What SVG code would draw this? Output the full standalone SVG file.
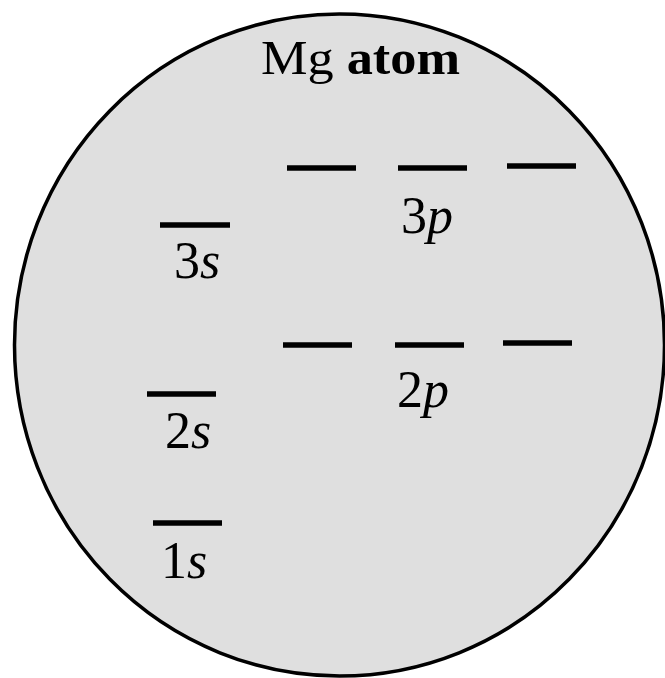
<svg xmlns="http://www.w3.org/2000/svg" width="665" height="678" viewBox="0 0 665 678">
<style>
.atom{fill:#dfdfdf;stroke:#000;stroke-width:3.5}
.lvl{stroke:#000;stroke-width:5.5;stroke-linecap:butt}
.lbl{font-family:"Liberation Serif","Times New Roman",serif;font-size:52px;fill:#000}
.it{font-style:italic}
.title{font-family:"Liberation Serif","Times New Roman",serif;font-size:48px;fill:#000}
</style>
<rect width="665" height="678" fill="#fff"/>
<g id="atom">
<ellipse class="atom" cx="339.5" cy="345" rx="325" ry="331"/>
<text class="title" x="261" y="74" textLength="199" lengthAdjust="spacingAndGlyphs">Mg <tspan font-weight="bold">atom</tspan></text>
</g>
<g id="level-3s">
<line class="lvl" x1="160" y1="225" x2="230" y2="225"/>
<text class="lbl" x="174" y="278">3<tspan class="it">s</tspan></text>
</g>
<g id="level-2s">
<line class="lvl" x1="147" y1="394" x2="216" y2="394"/>
<text class="lbl" x="165" y="448">2<tspan class="it">s</tspan></text>
</g>
<g id="level-1s">
<line class="lvl" x1="153" y1="523" x2="222" y2="523"/>
<text class="lbl" x="161" y="578">1<tspan class="it">s</tspan></text>
</g>
<g id="level-3p">
<line class="lvl" x1="287" y1="168" x2="356" y2="168"/>
<line class="lvl" x1="398" y1="168" x2="467" y2="168"/>
<line class="lvl" x1="507" y1="166" x2="576" y2="166"/>
<text class="lbl" x="401" y="233">3<tspan class="it">p</tspan></text>
</g>
<g id="level-2p">
<line class="lvl" x1="283" y1="345" x2="352" y2="345"/>
<line class="lvl" x1="395" y1="345" x2="464" y2="345"/>
<line class="lvl" x1="503" y1="343" x2="572" y2="343"/>
<text class="lbl" x="397" y="407">2<tspan class="it">p</tspan></text>
</g>
<g id="connectors"/>
</svg>
